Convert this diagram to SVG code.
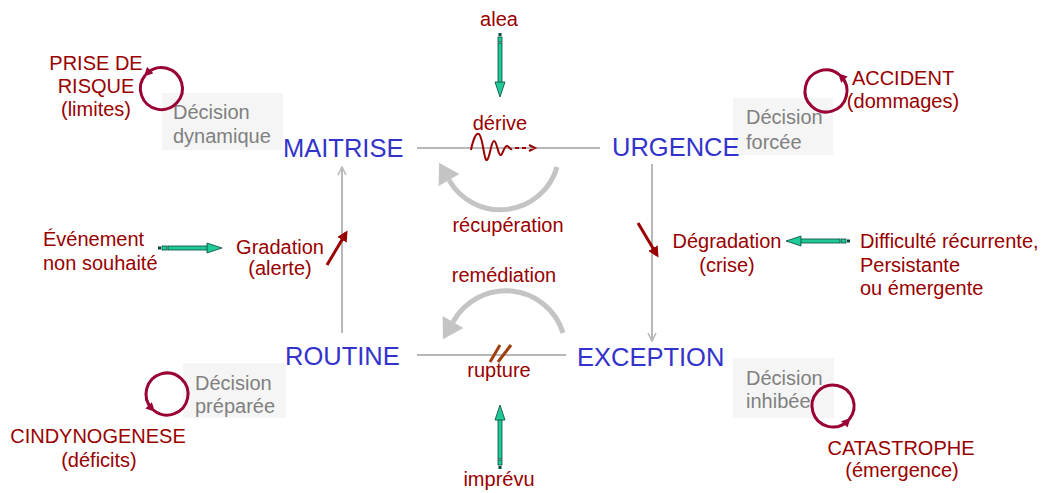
<svg xmlns="http://www.w3.org/2000/svg" width="1044" height="493" viewBox="0 0 1044 493">
<style>
text { font-family: "Liberation Sans", Arial, sans-serif; }
.lbl { font-size: 20px; fill: #990000; }
.mid { text-anchor: middle; }
.node { font-size: 25.5px; fill: #3333cc; }
.dec { font-size: 20px; fill: #808080; }
.box { fill: #f5f5f5; }
.gline { stroke: #b8b8b8; stroke-width: 2; fill: none; }
.garc { stroke: #c4c4c4; stroke-width: 5; fill: none; }
.ghead { fill: #c4c4c4; }
.loop { stroke: #990033; stroke-width: 3; fill: none; }
.red { stroke: #990000; stroke-width: 3; fill: none; }
.wave { stroke: #990000; stroke-width: 2; fill: none; }
.slash { stroke: #a0400f; stroke-width: 3; }
.gfill { fill: #20c997; stroke: #05493b; stroke-width: 0.8; }
</style>
<defs>
<marker id="grayHead" markerWidth="10" markerHeight="10" refX="9" refY="5" orient="auto" markerUnits="userSpaceOnUse">
<path d="M1,1 L9,5 L1,9" fill="none" stroke="#b8b8b8" stroke-width="1.6"/>
</marker>
<marker id="loopHead" markerWidth="9" markerHeight="9" refX="5" refY="4.5" orient="auto" markerUnits="userSpaceOnUse">
<path d="M0,0 L9,4.5 L0,9 z" fill="#990033"/>
</marker>
<marker id="redHead" markerWidth="11" markerHeight="11" refX="8" refY="5.5" orient="auto" markerUnits="userSpaceOnUse">
<path d="M0,0 L11,5.5 L0,11 z" fill="#990000"/>
</marker>
<g id="garrow">
<rect x="0" y="-1.5" width="3" height="3" fill="#05493b"/>
<rect x="4" y="-2" width="5" height="4" class="gfill"/>
<rect x="10" y="-2" width="40" height="4" class="gfill"/>
<polygon points="49,-5 64,0 49,5" class="gfill"/>
</g>
</defs>

<rect width="1044" height="493" fill="#ffffff"/>

<g id="decision-dynamique">
<rect class="box" x="162" y="93" width="121" height="57"/>
<text class="dec" x="173" y="119">Décision</text>
<text class="dec" x="173" y="143">dynamique</text>
</g>
<g id="decision-forcee">
<rect class="box" x="733" y="98" width="100" height="57"/>
<text class="dec" x="746" y="124">Décision</text>
<text class="dec" x="746" y="149">forcée</text>
</g>
<g id="decision-preparee">
<rect class="box" x="183" y="363" width="103" height="55"/>
<text class="dec" x="195" y="390">Décision</text>
<text class="dec" x="195" y="413">préparée</text>
</g>
<g id="decision-inhibee">
<rect class="box" x="733" y="358" width="101" height="60"/>
<text class="dec" x="746" y="385">Décision</text>
<text class="dec" x="746" y="408">inhibée</text>
</g>

<g id="connectors">
<line class="gline" x1="417" y1="148" x2="600" y2="148"/>
<line class="gline" x1="417" y1="355" x2="566" y2="355"/>
<line class="gline" x1="342" y1="333" x2="342" y2="167" marker-end="url(#grayHead)"/>
<line class="gline" x1="652" y1="164" x2="652" y2="341" marker-end="url(#grayHead)"/>
<path class="garc" d="M557,167 A59,59 0 0 1 449,180"/>
<polygon class="ghead" points="439,162.7 438.6,186 459.4,174"/>
<path class="garc" d="M563,333 A60,60 0 0 0 453,322"/>
<polygon class="ghead" points="443,339.3 442.6,316 463.4,328"/>
<path class="wave" d="M471,150 C473,140 476,132 479,134 C483,137 484,162 487,160 C490,158 491,141 494,141 C497,141 498,156 501,155 C503,154 504,146 507,146 C509,146 510,150 512,149"/>
<path class="wave" d="M515,148 L519,148 M522,148 L526,148 M529,145 L535,148 L529,151"/>
<line class="slash" x1="490" y1="362" x2="500" y2="345"/>
<line class="slash" x1="498" y1="362" x2="511" y2="345"/>
<line class="red" x1="327" y1="265" x2="346" y2="233" marker-end="url(#redHead)"/>
<line class="red" x1="638" y1="223" x2="657" y2="255" marker-end="url(#redHead)"/>
<use href="#garrow" transform="translate(500,33) rotate(90)"/>
<use href="#garrow" transform="translate(500,469) rotate(-90)"/>
<use href="#garrow" transform="translate(158,248)"/>
<use href="#garrow" transform="translate(850,241) rotate(180)"/>
</g>

<g id="node-maitrise"><text class="node" x="283" y="157">MAITRISE</text></g>
<g id="node-urgence"><text class="node" x="612" y="156">URGENCE</text></g>
<g id="node-routine"><text class="node" x="285" y="365">ROUTINE</text></g>
<g id="node-exception"><text class="node" x="577" y="366">EXCEPTION</text></g>

<g id="prise-de-risque">
<path class="loop" d="M145.4,75 A21,21 0 1 0 146.65,73.65" marker-end="url(#loopHead)"/>
<text class="lbl mid" x="96" y="70">PRISE DE</text>
<text class="lbl mid" x="96" y="93">RISQUE</text>
<text class="lbl mid" x="96" y="116">(limites)</text>
</g>
<g id="accident">
<path class="loop" d="M839.5,74.91 A21,21 0 1 0 840.85,76.15" marker-end="url(#loopHead)"/>
<text class="lbl mid" x="903" y="85">ACCIDENT</text>
<text class="lbl mid" x="903" y="108">(dommages)</text>
</g>
<g id="cindynogenese">
<path class="loop" d="M153.5,410.09 A21,21 0 1 0 152.15,408.85" marker-end="url(#loopHead)"/>
<text class="lbl mid" x="98" y="443">CINDYNOGENESE</text>
<text class="lbl mid" x="99" y="467">(déficits)</text>
</g>
<g id="catastrophe">
<path class="loop" d="M849.09,419.5 A21,21 0 1 0 847.85,420.85" marker-end="url(#loopHead)"/>
<text class="lbl mid" x="901" y="455">CATASTROPHE</text>
<text class="lbl mid" x="902" y="477">(émergence)</text>
</g>

<g id="alea"><text class="lbl mid" x="499" y="26">alea</text></g>
<g id="derive"><text class="lbl mid" x="500" y="130">dérive</text></g>
<g id="recuperation"><text class="lbl mid" x="508" y="232">récupération</text></g>
<g id="remediation"><text class="lbl mid" x="504" y="282">remédiation</text></g>
<g id="rupture"><text class="lbl mid" x="499" y="377">rupture</text></g>
<g id="imprevu"><text class="lbl mid" x="499" y="486">imprévu</text></g>

<g id="evenement">
<text class="lbl" x="43" y="246">Événement</text>
<text class="lbl" x="43" y="270">non souhaité</text>
</g>
<g id="gradation">
<text class="lbl mid" x="280" y="254">Gradation</text>
<text class="lbl mid" x="280" y="275">(alerte)</text>
</g>
<g id="degradation">
<text class="lbl mid" x="727" y="248">Dégradation</text>
<text class="lbl mid" x="727" y="272">(crise)</text>
</g>
<g id="difficulte">
<text class="lbl" x="860" y="248">Difficulté récurrente,</text>
<text class="lbl" x="860" y="272">Persistante</text>
<text class="lbl" x="860" y="295">ou émergente</text>
</g>
</svg>
